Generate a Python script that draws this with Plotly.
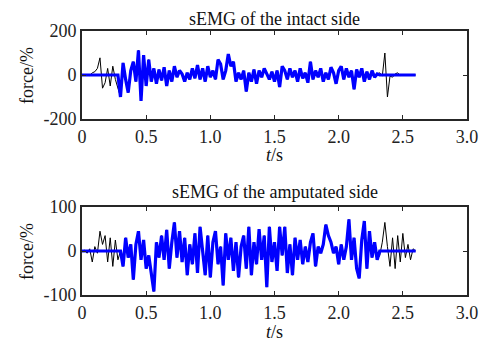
import plotly.graph_objects as go

# time base (s)
t = [round(i * 0.02, 2) for i in range(131)]

# raw sEMG of the intact side (force %)
intact = [0, 0, 2, -3, 10, 15, 30, 78, -60, -35,
          30, -50, 40, -20, -55, -100, 55, -20, -80, 20,
          60, -30, 112, -118, 90, -50, 70, -30, 30, -40,
          25, -25, 35, -50, 20, -30, 40, -10, 20, 5,
          -30, 10, -20, 30, -15, 45, -20, 30, -30, 40,
          -10, 20, -20, 70, 50, -20, 20, 95, 40, 60,
          -30, 10, -20, 20, -75, 10, -30, 25, -40, 20,
          -10, 30, 5, -20, 15, -30, 20, -55, 40, 20,
          -20, 30, -10, 20, -30, 30, -15, 10, -35, 60,
          -20, 20, -10, 30, -30, 10, -20, 35, 10, -40,
          20, 40, -20, 30, -10, 20, -65, 25, -10, 30,
          -30, 15, -20, 20, -10, 5, 10, -5, 100, -100,
          -5, -10, 5, 10, -3, 2, 0, 0, 0, 0, 0]

# raw sEMG of the amputated side (force %)
amputated = [0, 2, -5, 5, -25, 10, -5, 45, 15, 35,
             -25, 30, -35, 25, -20, 0, -35, 30, -15, 15,
             -65, 15, 45, -20, 25, -40, -10, -50, -92, 20,
             -15, 35, -20, 48, -40, 20, 65, -15, 45, -25,
             30, -55, 15, -30, 40, -50, 55, 0, -55, 35,
             -60, 20, 45, -30, 10, -78, 40, -20, 30, -45,
             20, -60, 10, 35, -40, 55, -55, 20, -30, 50,
             -20, 35, -82, 55, -25, 20, -45, 55, -10, 55,
             -50, 15, -55, 30, -20, 25, -30, 10, -25, 20,
             40, -35, 10, -5, 15, 60, 35, 20, -5, 10,
             -30, 15, -20, 10, 72, -20, 30, -40, -62, 25,
             68, -40, 45, -15, 20, -20, -10, 20, 65, 10,
             -35, 30, -40, 35, -25, 40, -15, 15, -20, 5, 0]

# active (processed) window of each signal, s
intact_window = (0.30, 2.30)
amputated_window = (0.30, 2.30)

titles = ["sEMG of the intact side", "sEMG of the amputated side"]
xtick_vals = [0, 0.5, 1.0, 1.5, 2.0, 2.5, 3.0]
xtick_text = ["0", "0.5", "1.0", "1.5", "2.0", "2.5", "3.0"]
ytick_top = [-200, 0, 200]
ytick_top_text = ["-200", "0", "200"]
ytick_bot = [-100, 0, 100]
ytick_bot_text = ["-100", "0", "100"]


def active(sig, win):
    return [v if win[0] <= tt <= win[1] else 0 for tt, v in zip(t, sig)]


FONT = "Liberation Serif, Times New Roman, serif"
fig = go.Figure()

for sig, win, ax in [(intact, intact_window, ""), (amputated, amputated_window, "2")]:
    fig.add_trace(go.Scatter(x=t, y=sig, mode="lines", xaxis="x" + ax, yaxis="y" + ax,
                             line=dict(color="black", width=1), showlegend=False))
    fig.add_trace(go.Scatter(x=t, y=active(sig, win), mode="lines", xaxis="x" + ax, yaxis="y" + ax,
                             line=dict(color="#0000ff", width=3.2), showlegend=False))

axis_common = dict(showline=True, linecolor="#262626", linewidth=2, mirror="ticks",
                   ticks="inside", ticklen=4, tickwidth=1, tickcolor="#262626",
                   showgrid=False, zeroline=False, automargin=False,
                   tickfont=dict(family=FONT, size=18, color="#222"))

# page body has an 8px default margin: size/margins compensate for it
fig.update_layout(
    template="none",
    width=487, height=334,
    margin=dict(l=74, r=28, t=23, b=47, autoexpand=False),
    paper_bgcolor="white", plot_bgcolor="white",
    xaxis=dict(domain=[0, 1], range=[0, 3], tickvals=xtick_vals, ticktext=xtick_text,
               anchor="y", **axis_common),
    yaxis=dict(domain=[0.6667, 1.0], range=[-200, 200], tickvals=ytick_top,
               ticktext=ytick_top_text, anchor="x", **axis_common),
    xaxis2=dict(domain=[0, 1], range=[0, 3], tickvals=xtick_vals, ticktext=xtick_text,
                anchor="y2", **axis_common),
    yaxis2=dict(domain=[0, 0.3333], range=[-100, 100], tickvals=ytick_bot,
                ticktext=ytick_bot_text, anchor="x2", **axis_common),
)

tf = dict(family=FONT, size=18, color="#111")
base = dict(xref="paper", yref="paper", showarrow=False, font=tf,
            xanchor="center", yanchor="middle")
ann = [
    dict(text=titles[0], x=0.5, y=1.0436, **base),
    dict(text=titles[1], x=0.5, y=0.390, **base),
    dict(text="<i>t</i>/s", x=0.5, y=0.530, **base),
    dict(text="<i>t</i>/s", x=0.5, y=-0.140, **base),
    dict(text="force/%", x=-0.143, y=0.8333, textangle=-90, **base),
    dict(text="force/%", x=-0.143, y=0.1667, textangle=-90, **base),
]
fig.update_layout(annotations=ann)

fig.write_html("out.html")
